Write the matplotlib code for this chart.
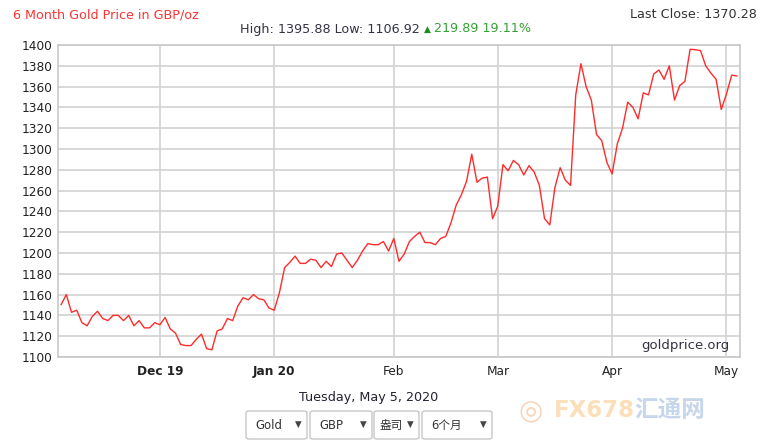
import numpy as np
import pandas as pd
import matplotlib
matplotlib.use("Agg")
import matplotlib.pyplot as plt
from matplotlib.patches import FancyBboxPatch

# -----------------------------
# Data: GBP gold price, trading days 5 Nov 2019 - 5 May 2020
# -----------------------------
dates = pd.bdate_range("2019-11-05", "2020-05-05")

prices = [
    # Nov 2019
    1150.39, 1160, 1143, 1145, 1133, 1130, 1139, 1144, 1137, 1135,
    1140, 1140, 1135, 1140, 1130, 1135, 1128, 1128, 1133,
    # Dec 2019
    1131, 1138, 1127, 1123, 1112, 1111, 1111, 1117, 1122, 1108,
    1106.92, 1125, 1127, 1137, 1135, 1149, 1157, 1155, 1160, 1156,
    1155, 1147,
    # Jan 2020
    1145, 1162, 1186, 1191, 1197, 1190, 1190, 1194, 1193, 1186,
    1192, 1187, 1199, 1200, 1193, 1186, 1193, 1202, 1209, 1208,
    1208, 1211, 1202,
    # Feb 2020
    1214, 1192, 1199, 1211, 1216, 1220, 1210, 1210, 1208, 1214,
    1216, 1229, 1246, 1256, 1269, 1295, 1268, 1272, 1273, 1233,
    # Mar 2020
    1245, 1285, 1279, 1289, 1285, 1275, 1284, 1278, 1265, 1233,
    1227, 1263, 1282, 1270, 1265, 1352, 1382, 1360, 1347, 1314,
    1308, 1287,
    # Apr 2020
    1276, 1305, 1320, 1345, 1340, 1329, 1354, 1352, 1372, 1376,
    1367, 1380, 1347, 1361, 1365, 1395.88, 1395.5, 1394.6, 1380, 1373,
    1367, 1338,
    # May 2020
    1353, 1371, 1370.28,
]

title = "6 Month Gold Price in GBP/oz"
last_close = "Last Close: 1370.28"
high_low = "High: 1395.88 Low: 1106.92"
change = "219.89 19.11%"
date_label = "Tuesday, May 5, 2020"
dropdowns = ["Gold", "GBP", "盎司", "6个月"]

y_ticks = np.arange(1100, 1401, 20)

# -----------------------------
# Figure
# -----------------------------
plt.rcParams["font.family"] = ["DejaVu Sans", "Noto Sans CJK SC"]

W, H = 771, 448
fig = plt.figure(figsize=(W / 100, H / 100), dpi=100)
fig.patch.set_facecolor("white")

ax = fig.add_axes([58 / W, (H - 357) / H, (740 - 58) / W, (357 - 45) / H])

x = np.arange(len(dates))
ax.plot(x, prices, color="#ff2b2b", linewidth=1.0)

# month ticks at first trading day of each month
month_start = [i for i in range(1, len(dates)) if dates[i].month != dates[i - 1].month]
month_labels = []
for i in month_start:
    d = dates[i]
    if d.month in (12, 1):
        month_labels.append(d.strftime("%b %y"))
    else:
        month_labels.append(d.strftime("%b"))

ax.set_xlim(-0.6, 130.6)
ax.set_ylim(1100, 1400)
ax.set_yticks(y_ticks)
ax.set_xticks(month_start)
ax.set_xticklabels(month_labels)
for lbl in ax.get_xticklabels():
    if lbl.get_text() in ("Dec 19", "Jan 20"):
        lbl.set_fontweight("bold")

ax.tick_params(axis="both", length=0, labelsize=8.7, colors="#222222", pad=4)
ax.tick_params(axis="x", pad=6)
ax.grid(True, color="#d2d2d2", linewidth=1.2)
ax.set_axisbelow(True)
for sp in ax.spines.values():
    sp.set_color("#c8c8c8")
    sp.set_linewidth(1.2)

ax.text(0.985, 0.015, "goldprice.org", transform=ax.transAxes, ha="right",
        va="bottom", fontsize=9.5, color="#333344")

# -----------------------------
# Header texts
# -----------------------------
def fx(px):
    return px / W

def fy(py):
    return 1 - py / H

fig.text(fx(13), fy(15), title, color="#ff3333", fontsize=9.2, va="center")
fig.text(fx(757), fy(15), last_close, color="#333333", fontsize=9.2,
         va="center", ha="right")
fig.text(fx(240), fy(29), high_low, color="#333344", fontsize=9.2, va="center")
fig.text(fx(424), fy(29), "▲", color="#1a8c1a", fontsize=6.5, va="center")
fig.text(fx(434), fy(29), change, color="#33a033", fontsize=9.2, va="center")

# -----------------------------
# Footer: date and dropdowns
# -----------------------------
fig.text(fx(369), fy(398), date_label, color="#222233", fontsize=9.2,
         ha="center", va="center")

boxes = [(246, 307), (310, 372), (374, 419), (422, 492)]
text_pad = [9, 9, 6, 9]
for (x0, x1), label, pad in zip(boxes, dropdowns, text_pad):
    box = FancyBboxPatch((fx(x0), fy(439)), fx(x1 - x0), (439 - 411) / H,
                         boxstyle="round,pad=0,rounding_size=0.004",
                         transform=fig.transFigure, facecolor="white",
                         edgecolor="#c8c8c8", linewidth=1.0)
    fig.patches.append(box)
    fig.text(fx(x0 + pad), fy(425), label, fontsize=8.4, color="#333333",
             va="center", family=["DejaVu Sans", "Noto Sans CJK SC"])
    fig.text(fx(x1 - 9), fy(424), "▼", fontsize=6.2, color="#444444",
             va="center", ha="center")

# faint site watermark
fig.text(fx(531), fy(410), "◎", fontsize=20, color="#f5c9a8", ha="center",
         va="center", alpha=0.8)
fig.text(fx(554), fy(410), "FX678", fontsize=16.5, color="#fbd7a8",
         va="center", fontweight="bold", alpha=0.8)
fig.text(fx(634), fy(410), "汇通网", fontsize=17, color="#b9cde6",
         va="center", family=["Noto Sans CJK SC"], fontweight="bold", alpha=0.8)

fig.savefig("out.png", dpi=100)
